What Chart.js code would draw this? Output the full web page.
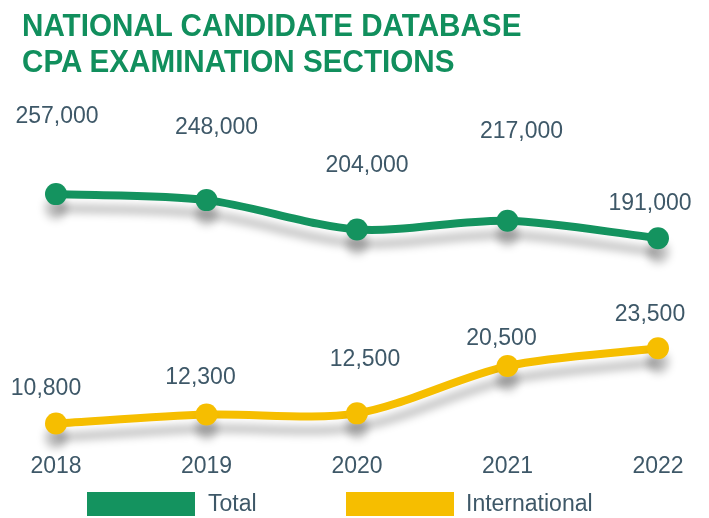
<!DOCTYPE html>
<html>
<head>
<meta charset="utf-8">
<script src="https://cdn.jsdelivr.net/npm/chart.js@4.4.0/dist/chart.umd.min.js"></script>
<style>
  body { margin: 0; background: #fff; font-family: "Liberation Sans", Arial, sans-serif; }
  #wrap { position: relative; width: 709px; height: 518px; }
  #titulo { position: absolute; left: 22px; top: 8px; color: #118f5d; font-weight: bold; font-size: 31px; line-height: 36px; margin: 0;
            transform: scaleX(0.956); transform-origin: left top; white-space: nowrap; }
  #leyenda { position: absolute; left: 0; top: 491px; width: 709px; height: 25px; }
  .item { position: absolute; top: 0; font-size: 23px; color: #3e5868; line-height: 25px; }
  .caja { position: absolute; top: 1px; width: 108px; height: 24px; }
</style>
</head>
<body>
<div id="wrap">
  <canvas id="grafico" width="709" height="518"></canvas>
  <h1 id="titulo">NATIONAL CANDIDATE DATABASE<br>CPA EXAMINATION SECTIONS</h1>
  <div id="leyenda">
    <div class="caja" style="left:87px;background:#14935f"></div>
    <div class="item" style="left:208px">Total</div>
    <div class="caja" style="left:346px;background:#f6be00"></div>
    <div class="item" style="left:466px">International</div>
  </div>
</div>
<script>
// datos del grafico
const anios = ["2018", "2019", "2020", "2021", "2022"];
const total = [257000, 248000, 204000, 217000, 191000];
const internacional = [10800, 12300, 12500, 20500, 23500];

// desplazamiento de las etiquetas sobre cada punto
const offsetTotal = [[1, -77], [10, -72], [10, -64], [14, -89], [-8, -35]];
const offsetIntl = [[-10, -35], [-6, -37], [8, -54], [-6, -27], [-8, -34]];

const verde = "#14935f";
const amarillo = "#f6be00";
const colorTexto = "#3e5868";

// sombra gris debajo de las lineas
const sombra = {
    id: "sombra",
    beforeDatasetDraw(chart) {
        const ctx = chart.ctx;
        ctx.save();
        ctx.shadowColor = "rgba(0,0,0,0.25)";
        ctx.shadowBlur = 9;
        ctx.shadowOffsetY = 14;
    },
    afterDatasetDraw(chart) {
        chart.ctx.restore();
    }
};

// etiquetas con los valores
const etiquetas = {
    id: "etiquetas",
    afterDatasetsDraw(chart) {
        const ctx = chart.ctx;
        ctx.save();
        ctx.font = "23px 'Liberation Sans', Arial, sans-serif";
        ctx.fillStyle = colorTexto;
        ctx.textAlign = "center";
        ctx.textBaseline = "middle";
        chart.data.datasets.forEach((ds, i) => {
            const offs = i === 0 ? offsetTotal : offsetIntl;
            chart.getDatasetMeta(i).data.forEach((p, j) => {
                ctx.fillText(ds.data[j].toLocaleString("en-US"), p.x + offs[j][0], p.y + offs[j][1]);
            });
        });
        ctx.restore();
    }
};

const ctx = document.querySelector("#grafico").getContext("2d");
new Chart(ctx, {
    type: "line",
    data: {
        labels: anios,
        datasets: [{
            label: "Total",
            data: total,
            yAxisID: "y",
            borderColor: verde,
            backgroundColor: verde,
            borderWidth: 8,
            pointRadius: 11,
            pointBorderWidth: 0,
            tension: 0.3,
            clip: false
        }, {
            label: "International",
            data: internacional,
            yAxisID: "y2",
            borderColor: amarillo,
            backgroundColor: amarillo,
            borderWidth: 8,
            pointRadius: 11,
            pointBorderWidth: 0,
            tension: 0.3,
            clip: false
        }]
    },
    options: {
        responsive: false,
        animation: false,
        layout: { padding: { left: 56, right: 51, top: 100, bottom: 25 } },
        plugins: { legend: { display: false }, tooltip: { enabled: false } },
        scales: {
            x: {
                grid: { display: false },
                border: { display: false },
                ticks: { color: colorTexto, padding: 13, font: { size: 23, family: "'Liberation Sans', Arial, sans-serif" } }
            },
            y: { display: false, min: -98500, max: 398000 },
            y2: { display: false, min: 9450, max: 65500 }
        }
    },
    plugins: [sombra, etiquetas]
});
</script>
</body>
</html>
